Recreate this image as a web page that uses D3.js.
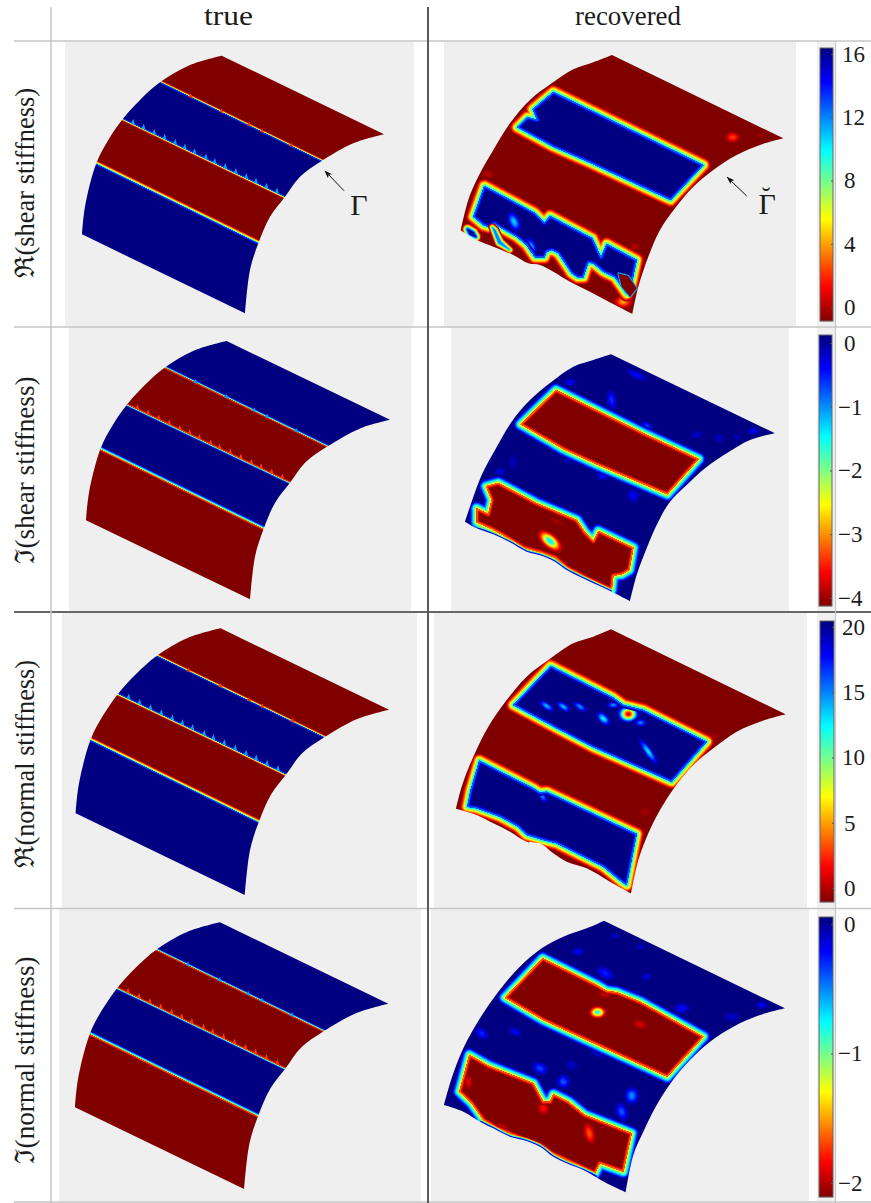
<!DOCTYPE html>
<html>
<head>
<meta charset="utf-8">
<script src="https://cdn.jsdelivr.net/npm/d3@7/dist/d3.min.js"></script>
<style>
html,body{margin:0;padding:0;background:#fff}
text{font-family:"Liberation Serif","DejaVu Serif",serif;fill:#1c1c1c}
</style>
</head>
<body>
<svg id="chart" width="871" height="1203"></svg>
<script>
// ---------- labels ----------
const columnTitles = ["true", "recovered"];
const rowTitles = ["ℜ(shear stiffness)", "ℑ(shear stiffness)", "ℜ(normal stiffness)", "ℑ(normal stiffness)"];
const ticksRow1 = [16, 12, 8, 4, 0];
const ticksRow2 = [0, -1, -2, -3, -4];
const ticksRow3 = [20, 15, 10, 5, 0];
const ticksRow4 = [0, -1, -2];
const rangeRow1 = [-0.88, 16.38];
const rangeRow2 = [-4.125, 0.125];
const rangeRow3 = [-1.07, 20.46];
const rangeRow4 = [-2.108, 0.054];

// colour map: normalised level -> jet (0 = lowest band, 1 = highest band)
const jetLevels = [0, 0.125, 0.375, 0.5, 0.625, 0.875, 1];
const jetColors = ["#800000", "#ff0000", "#ffff00", "#80ff80", "#00ffff", "#0000ff", "#000080"];

// ---------- true mesh (mesh units) ----------
const trueOuterArc = [[246,703],[255,620],[289,490],[325,420],[370,355],[420,300],[480,247],[570,195],[665,167]];
const trueInnerArc = [[1152,403],[1060,430],[965,483],[900,530],[855,590],[810,650],[775,730],[750,810],[735,940]];
const trueBottomEdge = [[735,940],[246,703]];
const trueUpperBand = [[380,198],[1065,532],[955,638],[270,309]];
const trueLowerBand = [[189,443],[875,779],[735,1050],[100,800]];
const trueMidLine = [[370,357],[855,590]];
const trueTopLine = [[480,247],[965,483]];
const trueTickFractions = [0.06,0.125,0.19,0.255,0.32,0.38,0.44,0.51,0.565,0.63,0.695,0.76,0.82,0.885,0.95];
const trueTopTickFractions = [0.19,0.38,0.55,0.63,0.81];

// ---------- recovered meshes (mesh units) ----------
const rec1Outer = [[92,601],[105,545],[120,495],[150,430],[190,360],[240,280],[300,210],[365,160],[430,118],[490,97],[546,75]];
const rec1Inner = [[1060,325],[990,345],[920,375],[850,420],[790,470],[735,535],[690,600],[655,680],[625,770],[607,852]];
const rec1Bottom = [[607,852],[545,820],[480,785],[420,755],[370,725],[330,705],[295,700],[250,675],[190,650],[140,630],[92,601]];
const rec1UpperBox = [[370,186],[820,405],[722,510],[480,398],[370,350],[262,292],[292,262],[322,270],[308,238]];
const rec1LowerBox = [[163,468],[313,548],[343,578],[360,558],[487,625],[513,682],[530,642],[620,690],[603,770],[590,792],[555,742],[520,725],[490,700],[475,698],[467,720],[460,742],[443,742],[425,730],[385,670],[365,660],[350,665],[343,682],[315,682],[290,645],[260,620],[215,595],[193,580],[175,590],[160,585],[130,560]];
const rec1CornerCell = [[113,598],[130,608],[137,620],[120,612]];
const rec1Strip = [[187,592],[196,600],[213,635],[240,660],[205,640]];
const rec1Hole = [[565,730],[595,738],[620,775],[600,800],[575,770]];
const rec1FieldSpots = [[908,322,16,12,0,0.2],[370,365,16,9,25,0.06],[175,432,14,10,0,0.06],[580,815,20,14,0,0.3],[530,240,14,8,25,0.04],[990,315,10,6,0,0.04],[500,620,12,9,0,0.06],[615,650,12,9,0,0.06]];
const rec1BoxSpots = [[252,575,13,24,-25,0.66],[303,650,12,22,-25,0.68]];

const rec2Outer = [[105,590],[125,530],[155,450],[195,375],[245,290],[300,225],[365,170],[430,125],[490,105],[543,88]];
const rec2Inner = [[1035,325],[960,345],[890,385],[825,430],[770,480],[720,530],[680,600],[650,670],[620,750],[600,828]];
const rec2Bottom = [[600,828],[545,800],[470,765],[410,735],[375,710],[335,692],[290,680],[240,652],[190,628],[140,610],[105,590]];
const rec2UpperBox = [[378,195],[640,325],[806,402],[712,508],[500,418],[400,372],[272,298]];
const rec2LowerBox = [[168,484],[205,474],[320,535],[440,585],[465,622],[490,648],[505,618],[610,668],[598,735],[575,748],[550,752],[545,795],[470,760],[410,728],[375,698],[330,682],[280,668],[215,628],[185,612],[140,592],[140,550],[175,567],[185,525]];
const rec2Rim = [[545,800],[470,765],[410,735],[375,710],[335,692],[290,680],[240,652],[190,628],[140,610]];
const rec2FieldSpots = [[620,150,28,10,25,0.87],[545,225,12,24,-10,0.82],[420,172,16,10,0,0.88],[650,303,16,9,25,0.8],[520,450,18,12,0,0.84],[610,512,17,17,0,0.88],[800,330,17,10,0,0.92],[868,340,13,12,0,0.93],[970,318,16,9,0,0.88],[920,335,10,9,0,0.93],[250,410,13,19,0,0.94],[210,440,13,10,0,0.9],[415,405,12,10,0,0.92]];
const rec2BoxSpots = [[360,648,30,15,40,0.66],[380,590,16,7,20,0.04]];

const rec3Outer = [[78,596],[95,530],[130,440],[175,350],[230,270],[290,200],[355,150],[430,100],[490,80],[543,58]];
const rec3Inner = [[1067,313],[990,335],[920,365],[850,415],[790,465],[735,530],[690,600],[655,670],[625,750],[603,850]];
const rec3Bottom = [[603,850],[540,815],[470,775],[410,755],[370,730],[330,700],[290,695],[240,665],[190,640],[140,615],[78,596]];
const rec3UpperBox = [[362,168],[548,262],[580,285],[640,300],[830,395],[725,515],[490,412],[380,355],[250,285]];
const rec3LowerBox = [[148,452],[310,535],[330,548],[350,545],[620,672],[590,825],[575,815],[520,770],[440,730],[380,700],[340,690],[290,675],[265,650],[210,620],[140,595],[112,590],[122,540]];
const rec3FieldSpots = [[850,378,15,10,0,0.035],[645,605,15,12,0,0.035]];
const rec3BoxSpots = [[350,288,19,8,35,0.68],[400,290,18,8,35,0.68],[450,290,18,8,35,0.72],[520,326,19,11,45,0.62],[595,312,22,18,0,0.06],[550,285,14,8,0,0.72],[632,338,14,9,0,0.74],[655,425,34,9,55,0.64],[338,560,8,16,-30,0.74],[380,700,16,7,30,0.78]];

const rec4Outer = [[42,600],[65,520],[100,430],[150,340],[205,260],[265,190],[335,130],[400,95],[470,70],[522,47]];
const rec4Inner = [[1065,310],[990,330],[910,365],[840,410],[780,465],[725,530],[680,600],[640,680],[610,750],[587,862]];
const rec4Bottom = [[587,862],[530,835],[460,795],[410,775],[370,755],[330,725],[280,705],[240,695],[190,670],[150,650],[100,620],[42,600]];
const rec4UpperBox = [[338,160],[500,240],[530,258],[560,262],[630,290],[820,395],[712,515],[470,405],[340,345],[225,278]];
const rec4LowerBox = [[118,450],[175,482],[310,535],[340,590],[360,590],[370,568],[415,590],[465,630],[605,685],[580,800],[510,775],[495,805],[365,745],[330,720],[270,698],[200,670],[160,645],[125,595],[88,560]];
const rec4Rim = [[500,815],[460,795],[410,775],[370,755],[330,725],[280,705],[240,695],[190,670],[150,650]];
const rec4FieldSpots = [[155,385,19,12,40,0.83],[255,380,17,10,30,0.87],[330,490,20,14,30,0.8],[400,530,17,16,50,0.78],[605,572,16,20,0,0.72],[575,620,14,22,-20,0.78],[445,140,17,10,0,0.88],[525,205,24,14,30,0.84],[755,310,19,13,0,0.86],[650,215,13,10,0,0.9],[905,335,20,12,0,0.92],[995,300,16,9,0,0.88],[555,92,13,7,0,0.92],[632,125,14,9,0,0.93],[615,268,12,9,0,0.76],[330,350,14,7,0,0.84],[425,480,17,13,30,0.93],[500,445,22,9,25,0.93]];
const rec4BoxSpots = [[503,322,18,13,0,0.62],[630,358,17,11,20,0.09],[478,685,12,24,-15,0.22],[340,610,13,15,0,0.14],[115,530,10,18,0,0.1],[215,665,17,7,20,0.09],[170,495,11,7,0,0.04],[525,268,15,9,0,0.08]];

// ---------- panels ----------
const trueDomainX = [246, 1152], trueDomainY = [167, 940];
const truePanels = [
  {bg:[65,414,41,327],  rx:[82,384],     ry:[55.67,313.33],  field:0, band:1, tick:0.72},
  {bg:[69,411,327,612], rx:[86,390],     ry:[341,599.33],    field:1, band:0, tick:0.18},
  {bg:[62,417,612,908], rx:[75.67,389],  ry:[628.33,895],    field:0, band:1, tick:0.72},
  {bg:[59,421,909,1202],rx:[75,388.33],  ry:[922.33,1189],   field:1, band:0, tick:0.18}
];
const recPanels = [
  {bg:[444,796,41,327],  ox:30,  field:0, inner:1, outer:rec1Outer, innerArc:rec1Inner, bottom:rec1Bottom, boxes:[rec1UpperBox,rec1LowerBox], fieldSpots:rec1FieldSpots, boxSpots:rec1BoxSpots, rim:null},
  {bg:[451,789,327,612], ox:325, field:1, inner:0, outer:rec2Outer, innerArc:rec2Inner, bottom:rec2Bottom, boxes:[rec2UpperBox,rec2LowerBox], fieldSpots:rec2FieldSpots, boxSpots:rec2BoxSpots, rim:rec2Rim},
  {bg:[434,807,612,908], ox:610, field:0, inner:1, outer:rec3Outer, innerArc:rec3Inner, bottom:rec3Bottom, boxes:[rec3UpperBox,rec3LowerBox], fieldSpots:rec3FieldSpots, boxSpots:rec3BoxSpots, rim:null},
  {bg:[431,809,909,1202],ox:905, field:1, inner:0, outer:rec4Outer, innerArc:rec4Inner, bottom:rec4Bottom, boxes:[rec4UpperBox,rec4LowerBox], fieldSpots:rec4FieldSpots, boxSpots:rec4BoxSpots, rim:rec4Rim}
];
const colorbars = [
  {x:[820,833], y:[48,321],   dom:rangeRow1, ticks:ticksRow1},
  {x:[819,832], y:[335,606],  dom:rangeRow2, ticks:ticksRow2},
  {x:[820,834], y:[621,902],  dom:rangeRow3, ticks:ticksRow3},
  {x:[819,833], y:[917,1197], dom:rangeRow4, ticks:ticksRow4}
];

// ---------- drawing ----------
const svg = d3.select("#chart");
const defs = svg.append("defs");
defs.append("filter").attr("id","soft").attr("x","-5%").attr("y","-5%").attr("width","110%").attr("height","110%")
    .append("feGaussianBlur").attr("stdDeviation",0.6);
defs.append("marker").attr("id","head").attr("viewBox","0 0 10 10").attr("refX",9).attr("refY",5)
    .attr("markerWidth",8).attr("markerHeight",8).attr("orient","auto")
    .append("path").attr("d","M0,1.5L10,5L0,8.5L2.5,5Z").attr("fill","#111");

const jet = d3.scaleLinear().domain(jetLevels).range(jetColors).clamp(true);
const mix = (a,b,t) => a + (b-a)*t;
let clipId = 0;

function surfacePath(sx, sy, outer, inner, bottom){
  const smooth = d3.line().x(d=>sx(d[0])).y(d=>sy(d[1])).curve(d3.curveCatmullRom.alpha(0.5));
  return smooth(outer) + smooth(inner).replace(/^M/,"L") + smooth(bottom).replace(/^M/,"L") + "Z";
}
function drawRegion(g, sx, sy, pts, vIn, vOut, width, steps, inset, edge, inside){
  inset = inset || 0; edge = edge || 0;
  const vEdge = mix(vIn, vOut, edge);
  const poly = d3.line().x(d=>sx(d[0])).y(d=>sy(d[1])).curve(d3.curveLinearClosed)(pts);
  const layers = d3.range(steps, 0, -1);
  g.selectAll(null).data(layers).join("path")
    .attr("d", poly)
    .attr("fill", k => jet(mix(vEdge, vOut, k/steps)))
    .attr("stroke", k => jet(mix(vEdge, vOut, k/steps)))
    .attr("stroke-width", k => 2*width*k/steps)
    .attr("stroke-linejoin","round");
  g.append("path").attr("d",poly).attr("fill",jet(vIn));
  if (inset > 0 || inside) {
    const id = "clip"+(clipId++);
    defs.append("clipPath").attr("id",id).append("path").attr("d",poly);
    const cg = g.append("g").attr("clip-path",`url(#${id})`);
    if (inside) inside(cg);
    const m = 6;
    if (inset > 0) cg.selectAll(null).data(d3.range(m,0,-1)).join("path")
      .attr("d",poly).attr("fill","none")
      .attr("stroke", j => jet(mix(vEdge, vIn, j/m)))
      .attr("stroke-width", j => 2*inset*j/m)
      .attr("stroke-linejoin","round");
  }
}
const spotGrow = 1.75;
const spotProfile = t => t*t*(3-2*t);
function drawSpots(g, sx, sy, spots, bg){
  const kx = Math.abs(sx(1)-sx(0)), ky = Math.abs(sy(1)-sy(0));
  const steps = 14;
  spots.forEach(s=>{
    const sg = g.append("g").attr("transform",`translate(${sx(s[0])},${sy(s[1])}) rotate(${s[4]})`);
    sg.selectAll(null).data(d3.range(steps,0,-1)).join("ellipse")
      .attr("rx", k => spotGrow*s[2]*kx*k/steps)
      .attr("ry", k => spotGrow*s[3]*ky*k/steps)
      .attr("fill", k => jet(mix(s[5], bg, spotProfile(k/steps))));
  });
}
function background(b, color){
  svg.append("rect").attr("x",b[0]).attr("y",b[2]).attr("width",b[1]-b[0]).attr("height",b[3]-b[2]).attr("fill",color||"#efefef");
}
function surfaceGroup(pathD){
  const id = "mask"+(clipId++);
  defs.append("mask").attr("id",id).attr("maskUnits","userSpaceOnUse")
    .attr("x",0).attr("y",0).attr("width",871).attr("height",1203)
    .append("path").attr("d",pathD).attr("fill","#fff");
  return svg.append("g").attr("filter","url(#soft)").append("g").attr("mask",`url(#${id})`);
}

// true column
truePanels.forEach(p=>{
  background(p.bg);
  const sx = d3.scaleLinear().domain(trueDomainX).range(p.rx);
  const sy = d3.scaleLinear().domain(trueDomainY).range(p.ry);
  const d = surfacePath(sx, sy, trueOuterArc, trueInnerArc, trueBottomEdge);
  const g = surfaceGroup(d);
  g.append("rect").attr("x",p.bg[0]).attr("y",p.bg[2]).attr("width",p.bg[1]-p.bg[0]).attr("height",p.bg[3]-p.bg[2]).attr("fill",jet(p.field));
  drawRegion(g, sx, sy, trueUpperBand, p.band, p.field, 2.4, 8, 1, 0.3);
  drawRegion(g, sx, sy, trueLowerBand, p.band, p.field, 3.6, 10, 1.4, 0.3);
  const tri = (line,f,h) => {
    const x = mix(line[0][0],line[1][0],f), y = mix(line[0][1],line[1][1],f);
    return [[x-6,y-1],[x+1,y-h],[x+6,y+3]];
  };
  const triLine = d3.line().x(q=>sx(q[0])).y(q=>sy(q[1])).curve(d3.curveLinearClosed);
  g.selectAll(null).data(trueTickFractions).join("path")
    .attr("d", f => triLine(tri(trueMidLine,f,15))).attr("fill", jet(p.tick));
  g.selectAll(null).data(trueTopTickFractions).join("path")
    .attr("d", f => triLine(tri(trueTopLine,f,11))).attr("fill", jet(p.field===0 ? 0.18 : 0.72));
});

// recovered column
recPanels.forEach(p=>{
  background(p.bg);
  const sx = d3.scaleLinear().domain([0,1323]).range([430,871]);
  const sy = d3.scaleLinear().domain([0,900]).range([p.ox,p.ox+300]);
  const d = surfacePath(sx, sy, p.outer, p.innerArc, p.bottom);
  const g = surfaceGroup(d);
  g.append("rect").attr("x",p.bg[0]).attr("y",p.bg[2]).attr("width",p.bg[1]-p.bg[0]).attr("height",p.bg[3]-p.bg[2]).attr("fill",jet(p.field));
  drawSpots(g, sx, sy, p.fieldSpots, p.field);
  p.boxes.forEach(b => drawRegion(g, sx, sy, b, p.inner, p.field, 7.5, 15, 3.2, 0.3,
    cg => drawSpots(cg, sx, sy, p.boxSpots, p.inner)));
  if (p === recPanels[0]) {
    drawRegion(g, sx, sy, rec1CornerCell, 1, 0, 6, 12);
    drawRegion(g, sx, sy, rec1Strip, 0.75, 0, 4, 8);
    drawRegion(g, sx, sy, rec1Hole, 0, 0.7, 1, 1);
  }
  if (p.rim) {
    const rim = d3.line().x(q=>sx(q[0])).y(q=>sy(q[1])).curve(d3.curveCatmullRom.alpha(0.5))(p.rim);
    [[5,0.33],[3.6,0.62],[2.2,0.9]].forEach(w=>{
      g.append("path").attr("d",rim).attr("fill","none").attr("stroke",jet(w[1])).attr("stroke-width",w[0]);
    });
  }
});

// colour-bar strips
[[817,835,41,327],[817,835,327,612],[817,835,612,908],[817,835,909,1202]].forEach(b=>background(b,"#f0f0f0"));

// colour bars
colorbars.forEach(c=>{
  const y = d3.scaleLinear().domain(c.dom).range([c.y[1], c.y[0]]);
  const norm = d3.scaleLinear().domain(c.dom).range([0,1]);
  const vals = d3.range(c.y[0], c.y[1]).map(v=>y.invert(v+0.5));
  const g = svg.append("g");
  g.selectAll("rect").data(vals).join("rect")
    .attr("x",c.x[0]).attr("width",c.x[1]-c.x[0])
    .attr("y",v=>y(v)-0.5).attr("height",1.2)
    .attr("fill",v=>jet(norm(v)));
  g.append("rect").attr("x",c.x[0]).attr("y",c.y[0]).attr("width",c.x[1]-c.x[0]).attr("height",c.y[1]-c.y[0])
    .attr("fill","none").attr("stroke","#666").attr("stroke-width",1);
  const axis = d3.axisRight(y).tickValues(c.ticks).tickFormat(d3.format("d")).tickSizeOuter(0).tickSizeInner(-2).tickPadding(9);
  const ax = svg.append("g").attr("transform",`translate(${c.x[1]},0)`).call(axis);
  ax.select(".domain").remove();
  ax.selectAll(".tick line").attr("stroke","#555");
  ax.selectAll(".tick text")
    .attr("x", v => v<0 ? 838-c.x[1] : (Math.abs(v)>=10 ? 842-c.x[1] : 844-c.x[1]))
    .attr("font-size",23).attr("font-family",null).attr("fill",null);
});

// table rules
const hRules = [[41,"#c6c6c6",1.5],[327,"#c6c6c6",1.5],[612,"#666",2],[908.5,"#c6c6c6",1.5],[1202,"#c6c6c6",1.5]];
svg.selectAll(".h").data(hRules).join("line").attr("x1",14).attr("x2",871)
  .attr("y1",d=>d[0]).attr("y2",d=>d[0]).attr("stroke",d=>d[1]).attr("stroke-width",d=>d[2]);
const vRules = [[51,7,"#c6c6c6",1.5],[428,7,"#5a5a5a",2],[835.5,41,"#c6c6c6",1.2]];
svg.selectAll(".v").data(vRules).join("line").attr("x1",d=>d[0]).attr("x2",d=>d[0])
  .attr("y1",d=>d[1]).attr("y2",1203).attr("stroke",d=>d[2]).attr("stroke-width",d=>d[3]);

// titles
const colX = [228.5, 628];
const colW = [49, 106];
svg.selectAll(".ct").data(columnTitles).join("text")
  .attr("x",(d,i)=>colX[i]).attr("y",25).attr("text-anchor","middle").attr("font-size",27)
  .attr("textLength",(d,i)=>colW[i]).attr("lengthAdjust","spacingAndGlyphs").text(d=>d);
const rowC = [183, 470, 764, 1060];
const rowW = [190, 187, 208, 207];
svg.selectAll(".rt").data(rowTitles).join("text")
  .attr("transform",(d,i)=>`translate(34,${rowC[i]}) rotate(-90)`)
  .attr("text-anchor","middle").attr("font-size",27)
  .attr("textLength",(d,i)=>rowW[i]).attr("lengthAdjust","spacingAndGlyphs").text(d=>d);

// annotations
svg.append("line").attr("x1",344).attr("y1",190.7).attr("x2",325).attr("y2",171)
  .attr("stroke","#111").attr("stroke-width",1).attr("marker-end","url(#head)");
svg.append("line").attr("x1",746.7).attr("y1",196).attr("x2",727.3).attr("y2",177.3)
  .attr("stroke","#111").attr("stroke-width",1).attr("marker-end","url(#head)");
svg.append("text").attr("x",359).attr("y",215).attr("text-anchor","middle").attr("font-size",30).text("Γ");
const gammaBreve = svg.append("text").attr("x",758.5).attr("y",214).attr("font-size",30);
gammaBreve.append("tspan").text("Γ");
gammaBreve.append("tspan").attr("dx",-14).attr("dy",-9).attr("font-size",26).text("˘");
</script>
</body>
</html>
